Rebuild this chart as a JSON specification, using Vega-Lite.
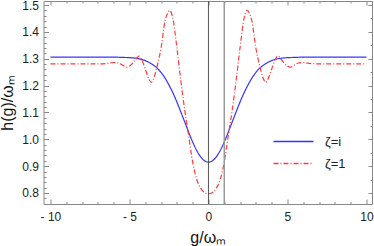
{
  "$schema": "https://vega.github.io/schema/vega-lite/v6.json",
  "width": 328.5,
  "height": 203,
  "autosize": {"type": "none"},
  "padding": {"left": 43.5, "top": 1, "right": 2, "bottom": 42},
  "background": "white",
  "config": {
    "view": {"stroke": "#888", "strokeWidth": 1},
    "font": "Liberation Sans",
    "axis": {
      "domain": false, "grid": false,
      "labelFont": "Liberation Sans", "labelFontSize": 12, "labelColor": "#222",
      "tickColor": "#888", "tickWidth": 1,
      "titleFont": "Liberation Sans", "titleFontSize": 16, "titleFontWeight": "normal", "titleColor": "#111",
      "labelOverlap": false, "labelFlush": false
    },
    "legend": {"padding": 0}
  },
  "datasets": {
    "curves": [
      {"g": -10, "h": 1.306, "s": "ζ=i"}, {"g": -8, "h": 1.306, "s": "ζ=i"}, {"g": -6, "h": 1.306, "s": "ζ=i"},
      {"g": -5.5, "h": 1.305, "s": "ζ=i"}, {"g": -5, "h": 1.304, "s": "ζ=i"}, {"g": -4.5, "h": 1.301, "s": "ζ=i"},
      {"g": -4, "h": 1.293, "s": "ζ=i"}, {"g": -3.75, "h": 1.286, "s": "ζ=i"}, {"g": -3.5, "h": 1.277, "s": "ζ=i"},
      {"g": -3.25, "h": 1.265, "s": "ζ=i"}, {"g": -3, "h": 1.249, "s": "ζ=i"}, {"g": -2.75, "h": 1.228, "s": "ζ=i"},
      {"g": -2.5, "h": 1.202, "s": "ζ=i"}, {"g": -2.25, "h": 1.173, "s": "ζ=i"}, {"g": -2, "h": 1.139, "s": "ζ=i"},
      {"g": -1.75, "h": 1.102, "s": "ζ=i"}, {"g": -1.5, "h": 1.064, "s": "ζ=i"}, {"g": -1.25, "h": 1.026, "s": "ζ=i"},
      {"g": -1, "h": 0.990, "s": "ζ=i"}, {"g": -0.75, "h": 0.959, "s": "ζ=i"}, {"g": -0.5, "h": 0.935, "s": "ζ=i"},
      {"g": -0.25, "h": 0.920, "s": "ζ=i"}, {"g": 0, "h": 0.915, "s": "ζ=i"},
      {"g": 0.25, "h": 0.920, "s": "ζ=i"}, {"g": 0.5, "h": 0.935, "s": "ζ=i"}, {"g": 0.75, "h": 0.959, "s": "ζ=i"},
      {"g": 1, "h": 0.990, "s": "ζ=i"}, {"g": 1.25, "h": 1.026, "s": "ζ=i"}, {"g": 1.5, "h": 1.064, "s": "ζ=i"},
      {"g": 1.75, "h": 1.102, "s": "ζ=i"}, {"g": 2, "h": 1.139, "s": "ζ=i"}, {"g": 2.25, "h": 1.173, "s": "ζ=i"},
      {"g": 2.5, "h": 1.202, "s": "ζ=i"}, {"g": 2.75, "h": 1.228, "s": "ζ=i"}, {"g": 3, "h": 1.249, "s": "ζ=i"},
      {"g": 3.25, "h": 1.265, "s": "ζ=i"}, {"g": 3.5, "h": 1.277, "s": "ζ=i"}, {"g": 3.75, "h": 1.286, "s": "ζ=i"},
      {"g": 4, "h": 1.293, "s": "ζ=i"}, {"g": 4.5, "h": 1.301, "s": "ζ=i"}, {"g": 5, "h": 1.304, "s": "ζ=i"},
      {"g": 5.5, "h": 1.305, "s": "ζ=i"}, {"g": 6, "h": 1.306, "s": "ζ=i"}, {"g": 8, "h": 1.306, "s": "ζ=i"},
      {"g": 10, "h": 1.306, "s": "ζ=i"},

      {"g": -10, "h": 1.281, "s": "ζ=1"}, {"g": -7, "h": 1.281, "s": "ζ=1"}, {"g": -6.5, "h": 1.282, "s": "ζ=1"},
      {"g": -6, "h": 1.286, "s": "ζ=1"}, {"g": -5.7, "h": 1.284, "s": "ζ=1"}, {"g": -5.4, "h": 1.275, "s": "ζ=1"},
      {"g": -5.2, "h": 1.269, "s": "ζ=1"}, {"g": -5, "h": 1.272, "s": "ζ=1"}, {"g": -4.8, "h": 1.283, "s": "ζ=1"},
      {"g": -4.6, "h": 1.298, "s": "ζ=1"}, {"g": -4.4, "h": 1.310, "s": "ζ=1"}, {"g": -4.25, "h": 1.300, "s": "ζ=1"},
      {"g": -4, "h": 1.262, "s": "ζ=1"}, {"g": -3.75, "h": 1.222, "s": "ζ=1"}, {"g": -3.62, "h": 1.212, "s": "ζ=1"},
      {"g": -3.5, "h": 1.222, "s": "ζ=1"}, {"g": -3.25, "h": 1.272, "s": "ζ=1"}, {"g": -3, "h": 1.340, "s": "ζ=1"},
      {"g": -2.75, "h": 1.440, "s": "ζ=1"}, {"g": -2.6, "h": 1.468, "s": "ζ=1"}, {"g": -2.45, "h": 1.480, "s": "ζ=1"},
      {"g": -2.25, "h": 1.450, "s": "ζ=1"}, {"g": -2, "h": 1.342, "s": "ζ=1"}, {"g": -1.75, "h": 1.218, "s": "ζ=1"},
      {"g": -1.5, "h": 1.108, "s": "ζ=1"}, {"g": -1.25, "h": 1.012, "s": "ζ=1"}, {"g": -1, "h": 0.915, "s": "ζ=1"},
      {"g": -0.75, "h": 0.852, "s": "ζ=1"}, {"g": -0.5, "h": 0.818, "s": "ζ=1"}, {"g": -0.25, "h": 0.802, "s": "ζ=1"},
      {"g": 0, "h": 0.797, "s": "ζ=1"},
      {"g": 0.25, "h": 0.802, "s": "ζ=1"}, {"g": 0.5, "h": 0.818, "s": "ζ=1"}, {"g": 0.75, "h": 0.852, "s": "ζ=1"},
      {"g": 1, "h": 0.915, "s": "ζ=1"}, {"g": 1.25, "h": 1.012, "s": "ζ=1"}, {"g": 1.5, "h": 1.108, "s": "ζ=1"},
      {"g": 1.75, "h": 1.218, "s": "ζ=1"}, {"g": 2, "h": 1.342, "s": "ζ=1"}, {"g": 2.25, "h": 1.450, "s": "ζ=1"},
      {"g": 2.45, "h": 1.480, "s": "ζ=1"}, {"g": 2.6, "h": 1.468, "s": "ζ=1"}, {"g": 2.75, "h": 1.440, "s": "ζ=1"},
      {"g": 3, "h": 1.340, "s": "ζ=1"}, {"g": 3.25, "h": 1.272, "s": "ζ=1"}, {"g": 3.5, "h": 1.222, "s": "ζ=1"},
      {"g": 3.62, "h": 1.212, "s": "ζ=1"}, {"g": 3.75, "h": 1.222, "s": "ζ=1"}, {"g": 4, "h": 1.262, "s": "ζ=1"},
      {"g": 4.25, "h": 1.300, "s": "ζ=1"}, {"g": 4.4, "h": 1.310, "s": "ζ=1"}, {"g": 4.6, "h": 1.298, "s": "ζ=1"},
      {"g": 4.8, "h": 1.283, "s": "ζ=1"}, {"g": 5, "h": 1.272, "s": "ζ=1"}, {"g": 5.2, "h": 1.269, "s": "ζ=1"},
      {"g": 5.4, "h": 1.275, "s": "ζ=1"}, {"g": 5.7, "h": 1.284, "s": "ζ=1"}, {"g": 6, "h": 1.286, "s": "ζ=1"},
      {"g": 6.5, "h": 1.282, "s": "ζ=1"}, {"g": 7, "h": 1.281, "s": "ζ=1"}, {"g": 10, "h": 1.281, "s": "ζ=1"}
    ]
  },
  "resolve": {"axis": {"x": "independent", "y": "independent"}},
  "layer": [
    {
      "data": {"name": "curves"},
      "mark": {"type": "line", "interpolate": "monotone", "strokeWidth": 1.2},
      "encoding": {
        "x": {
          "field": "g", "type": "quantitative",
          "scale": {"domain": [-10.44, 10.35], "nice": false, "zero": false},
          "axis": {
            "orient": "bottom",
            "values": [-10, -9, -8, -7, -6, -5, -4, -3, -2, -1, 0, 1, 2, 3, 4, 5, 6, 7, 8, 9, 10],
            "tickSize": {"condition": {"test": "datum.value % 5 === 0", "value": -5}, "value": -2.5},
            "labelExpr": "datum.value % 5 === 0 ? (datum.value < 0 ? '- ' + abs(datum.value) : '' + datum.value) : ''",
            "labelPadding": 12,
            "title": "g/ωₘ",
            "titlePadding": 5
          }
        },
        "y": {
          "field": "h", "type": "quantitative",
          "scale": {"domain": [0.759, 1.515], "nice": false, "zero": false},
          "axis": {
            "orient": "left",
            "values": [0.78, 0.8, 0.82, 0.84, 0.86, 0.88, 0.9, 0.92, 0.94, 0.96, 0.98, 1.0, 1.02, 1.04, 1.06, 1.08, 1.1, 1.12, 1.14, 1.16, 1.18, 1.2, 1.22, 1.24, 1.26, 1.28, 1.3, 1.32, 1.34, 1.36, 1.38, 1.4, 1.42, 1.44, 1.46, 1.48, 1.5],
            "tickSize": {"condition": {"test": "abs(datum.value * 10 - round(datum.value * 10)) < 0.001", "value": -5}, "value": -2.5},
            "labelExpr": "abs(datum.value * 10 - round(datum.value * 10)) < 0.001 ? format(datum.value, '.1f') : ''",
            "labelPadding": 10,
            "title": "h(g)/ωₘ",
            "titlePadding": 6
          }
        },
        "color": {
          "field": "s", "type": "nominal",
          "scale": {"domain": ["ζ=i", "ζ=1"], "range": ["#3333ff", "#ff3b3b"]},
          "legend": {
            "title": null, "orient": "none", "legendX": 243.5, "legendY": 134,
            "symbolType": "M-4,0H4", "symbolSize": 100, "symbolStrokeWidth": 1.5,
            "labelFontSize": 13, "labelFont": "Liberation Sans", "labelColor": "#222", "labelOffset": 25, "rowPadding": 8
          }
        },
        "strokeDash": {
          "field": "s", "type": "nominal",
          "scale": {"domain": ["ζ=i", "ζ=1"], "range": [[1, 0], [5, 2, 1, 2]]},
          "legend": {
            "title": null, "orient": "none", "legendX": 243.5, "legendY": 134,
            "symbolType": "M-4,0H4", "symbolSize": 100, "symbolStrokeWidth": 1.5,
            "labelFontSize": 13, "labelFont": "Liberation Sans", "labelColor": "#222", "labelOffset": 25, "rowPadding": 8
          }
        }
      }
    },
    {
      "data": {"values": [{"g": 0}]},
      "mark": {"type": "rule", "color": "#555", "strokeWidth": 1},
      "encoding": {"x": {"field": "g", "type": "quantitative", "axis": null}}
    },
    {
      "data": {"values": [{"g": 1}]},
      "mark": {"type": "rule", "color": "#999", "strokeWidth": 1.5},
      "encoding": {"x": {"field": "g", "type": "quantitative", "axis": null}}
    },
    {
      "data": {"name": "curves"},
      "mark": {"type": "point", "opacity": 0},
      "encoding": {
        "x": {
          "field": "g", "type": "quantitative",
          "axis": {
            "orient": "top",
            "values": [-10, -9, -8, -7, -6, -5, -4, -3, -2, -1, 0, 1, 2, 3, 4, 5, 6, 7, 8, 9, 10],
            "tickSize": {"condition": {"test": "datum.value % 5 === 0", "value": -4}, "value": -2},
            "labels": false, "title": null
          }
        },
        "y": {
          "field": "h", "type": "quantitative",
          "axis": {
            "orient": "right",
            "values": [0.8, 0.85, 0.9, 0.95, 1.0, 1.05, 1.1, 1.15, 1.2, 1.25, 1.3, 1.35, 1.4, 1.45, 1.5],
            "tickSize": {"condition": {"test": "abs(datum.value * 10 - round(datum.value * 10)) < 0.001", "value": -4}, "value": -2},
            "labels": false, "title": null
          }
        }
      }
    }
  ]
}
